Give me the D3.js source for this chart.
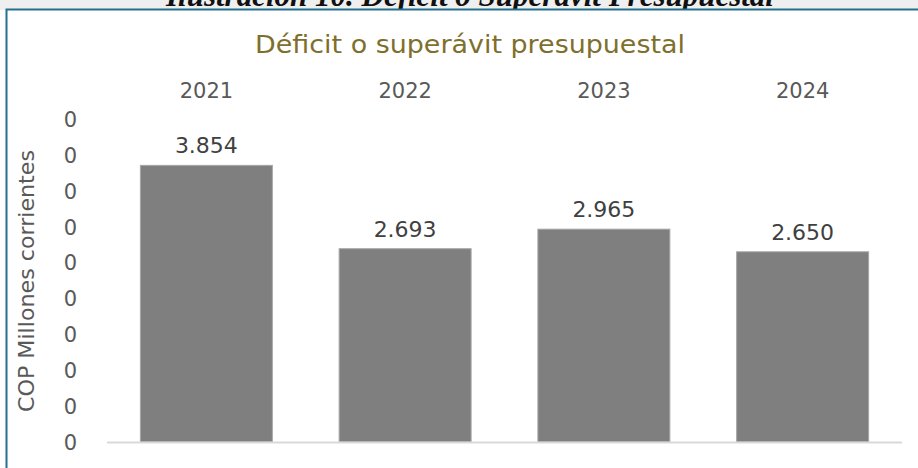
<!DOCTYPE html>
<html><head><meta charset="utf-8">
<script src="https://cdn.jsdelivr.net/npm/d3@7"></script>
<style>body{margin:0;background:#fff}svg{display:block}</style>
</head><body>
<svg id="chart" width="918" height="468"></svg>
<script>
const categories = ["2021", "2022", "2023", "2024"];
const values = [3854, 2693, 2965, 2650];
const tickValues = [0, 500, 1000, 1500, 2000, 2500, 3000, 3500, 4000, 4500];
const tickLabels = ["0", "0", "0", "0", "0", "0", "0", "0", "0", "0"];
const chartTitle = "Déficit o superávit presupuestal";
const captionText = "Ilustración 10. Déficit o Superávit Presupuestal";
const yAxisTitle = "COP Millones corrientes";

const svg = d3.select("#chart");
const W = 918, H = 468;
const plotBottom = 442;
const font = "DejaVu Sans, Verdana, sans-serif";

// page strip above frame
svg.append("rect").attr("x", 0).attr("y", 0).attr("width", W).attr("height", 10).attr("fill", "#efefef");
svg.append("text").attr("x", 470).attr("y", 6).attr("text-anchor", "middle")
  .attr("font-family", "Liberation Serif, Times New Roman, serif").attr("font-style", "italic").attr("font-weight", "bold")
  .attr("font-size", 31).attr("fill", "#111").text(captionText);
svg.append("rect").attr("x", 0).attr("y", 10).attr("width", W).attr("height", H - 10).attr("fill", "#fff");
// frame
svg.append("path").attr("d", `M6.5,${H + 5} V9.5 H${W + 5}`).attr("fill", "none").attr("stroke", "#24708f").attr("stroke-width", 2);

const locale = d3.formatLocale({decimal: ",", thousands: ".", grouping: [3], currency: ["$", ""]});
const fmt = locale.format(",d");

const x = d3.scaleBand().domain(categories).range([107, 902]).paddingInner(0.336).paddingOuter(0.168);
const y = d3.scaleLinear().domain([0, 4500]).range([plotBottom, 119]);

// title
svg.append("text").attr("x", 470).attr("y", 53).attr("text-anchor", "middle")
  .attr("font-family", font).attr("font-size", 25).attr("fill", "#7f6f2d")
  .attr("textLength", 430).attr("lengthAdjust", "spacingAndGlyphs")
  .text(chartTitle);

// bars
svg.append("g").selectAll("rect").data(values).join("rect")
  .attr("x", (d, i) => x(categories[i]))
  .attr("width", x.bandwidth())
  .attr("y", d => y(d))
  .attr("height", d => y(0) - y(d))
  .attr("fill", "#7f7f7f").attr("stroke", "#a6a6a6").attr("stroke-width", 1);

// value labels
svg.append("g").selectAll("text").data(values).join("text")
  .attr("x", (d, i) => x(categories[i]) + x.bandwidth() / 2)
  .attr("y", d => y(d) - 12)
  .attr("text-anchor", "middle")
  .attr("font-family", font).attr("font-size", 22).attr("fill", "#404040")
  .text(d => fmt(d));

// x axis line (baseline)
svg.append("line").attr("x1", 107).attr("x2", 902).attr("y1", plotBottom + 0.5).attr("y2", plotBottom + 0.5)
  .attr("stroke", "#d9d9d9").attr("stroke-width", 2);

// category labels on top
const xAxis = d3.axisTop(x).tickSize(0).tickPadding(0);
const gx = svg.append("g").attr("transform", "translate(0,98)").call(xAxis);
gx.select(".domain").remove();
gx.selectAll("text").attr("font-family", font).attr("font-size", 21).attr("fill", "#595959").attr("dy", 0);

// y axis
const yAxis = d3.axisLeft(y).tickValues(tickValues).tickSize(0).tickPadding(0).tickFormat((d, i) => tickLabels[i]);
const gy = svg.append("g").attr("transform", "translate(77,0)").call(yAxis);
gy.select(".domain").remove();
gy.selectAll("text").attr("font-family", font).attr("font-size", 21).attr("fill", "#595959").attr("dy", "0.35em");

// y title
svg.append("text").attr("transform", "translate(34,281) rotate(-90)").attr("text-anchor", "middle")
  .attr("font-family", font).attr("font-size", 21).attr("fill", "#595959")
  .attr("textLength", 262).attr("lengthAdjust", "spacingAndGlyphs")
  .text(yAxisTitle);
</script>
</body></html>
